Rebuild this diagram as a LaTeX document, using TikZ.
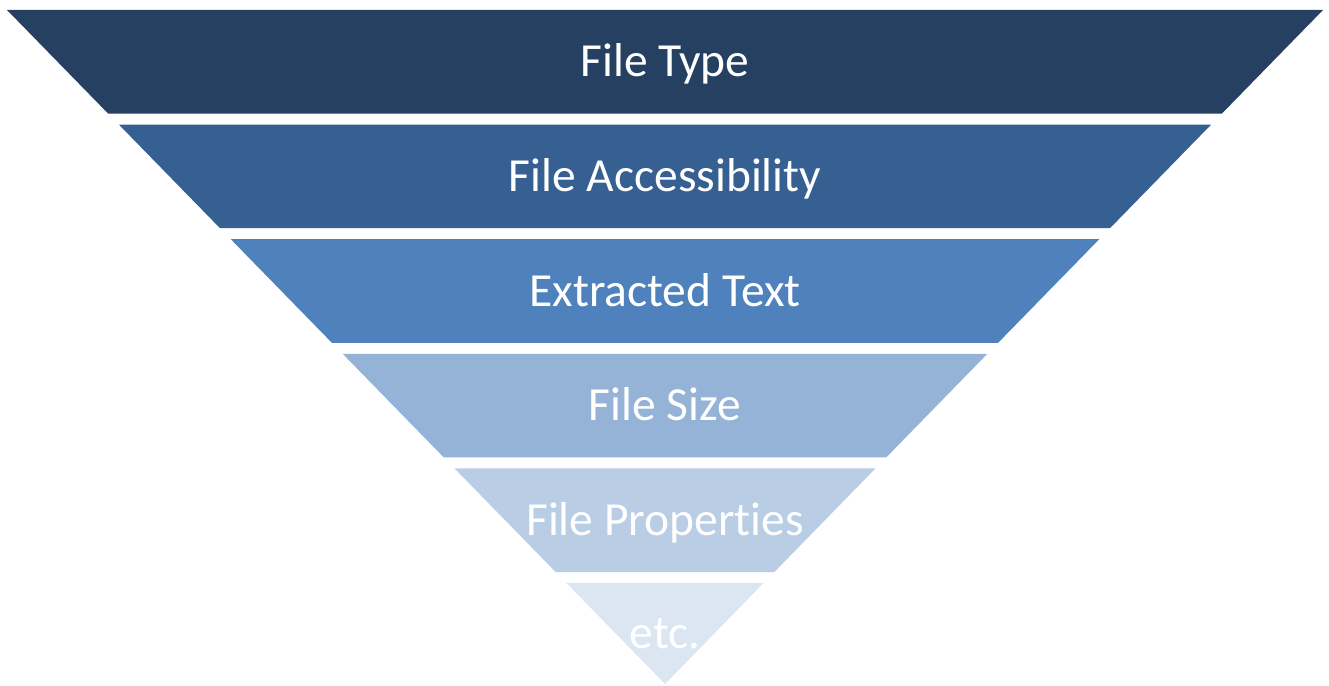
\documentclass[tikz,border=0pt]{standalone}
\usepackage{fontspec}
\setmainfont[Ligatures={NoCommon}]{Carlito}
\definecolor{c1}{HTML}{254061}
\definecolor{c2}{HTML}{376092}
\definecolor{c3}{HTML}{4F81BD}
\definecolor{c4}{HTML}{95B3D7}
\definecolor{c5}{HTML}{B9CDE5}
\definecolor{c6}{HTML}{DCE6F2}
\tikzset{
  bandlabel/.style={text=white, font=\fontsize{47.5}{50}\selectfont, anchor=base, inner sep=0pt},
}
\begin{document}
\begin{tikzpicture}[x=1pt,y=-1pt]
\useasboundingbox (0,0) rectangle (1329,685);
\foreach \i/\col/\txt/\nm in {0/c1/File Type/ft,1/c2/File Accessibility/fa,2/c3/Extracted Text/et,3/c4/File Size/fs,4/c5/File Properties/fp,5/c6/etc./etc}{
  \pgfmathsetmacro{\yt}{10+114.6*\i}
  \pgfmathsetmacro{\yb}{\i==5 ? 684 : \yt+103.6}
  \pgfmathsetmacro{\hwt}{0.97626*(684-\yt)}
  \pgfmathsetmacro{\hwb}{0.97626*(684-\yb)}
  \fill[\col] (665-\hwt,\yt) -- (665+\hwt,\yt) -- (665+\hwb,\yb) -- (665-\hwb,\yb) -- cycle;
  \pgfmathsetmacro{\yc}{(\yt+\yb)/2+15}
  \node[bandlabel] (\nm) at (665,\yc) {\txt};
}
\end{tikzpicture}
\end{document}
